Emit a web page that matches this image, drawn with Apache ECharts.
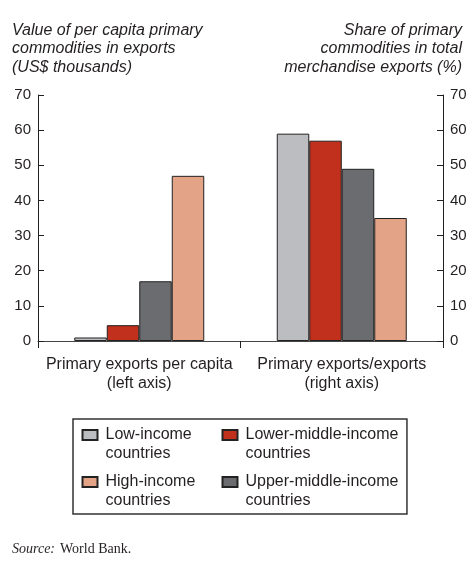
<!DOCTYPE html>
<html>
<head>
<meta charset="utf-8">
<script src="https://cdn.jsdelivr.net/npm/echarts@6/dist/echarts.min.js"></script>
<style>
  html, body { margin: 0; padding: 0; background: #fff; }
  #chart { width: 472px; height: 570px; }
</style>
</head>
<body>
<div id="chart"></div>
<script>
const categories = ['Primary exports per capita\n(left axis)', 'Primary exports/exports\n(right axis)'];
const seriesNames = [
  'Low-income\ncountries',
  'Lower-middle-income\ncountries',
  'Upper-middle-income\ncountries',
  'High-income\ncountries'
];
// [per capita (US$ thousands), share of exports (%)]
const lowIncome = [1, 59];
const lowerMiddle = [4.5, 57];
const upperMiddle = [17, 49];
const highIncome = [47, 35];
const seriesValues = [lowIncome, lowerMiddle, upperMiddle, highIncome];
const seriesColors = ['#bcbdc1', '#c0301c', '#6b6c70', '#e3a387'];
const legendOrder = [seriesNames[0], seriesNames[1], seriesNames[3], seriesNames[2]];

const chart = echarts.init(document.getElementById('chart'));
const font = 'Liberation Sans, Arial, sans-serif';
const ink = '#231f20';

// legend swatch sits on the first line of a two-line label
const swatch = 'path://M0,0L0,0M0,4.5L15,4.5L15,14.5L0,14.5ZM0,38L0,38';

const valueAxis = (pos) => ({
  type: 'value',
  position: pos,
  min: 0,
  max: 70,
  interval: 10,
  splitLine: { show: false },
  axisLine: { show: true, lineStyle: { color: ink, width: 1 } },
  axisTick: { show: true, inside: true, length: 6, lineStyle: { color: ink } },
  axisLabel: { color: ink, fontSize: 15, fontFamily: font, margin: 7 }
});

const titleText = { fontSize: 16, fontStyle: 'italic', fontWeight: 'normal', color: ink, fontFamily: font, lineHeight: 18.5 };

chart.setOption({
  animation: false,
  title: [
    {
      text: 'Value of per capita primary\ncommodities in exports\n(US$ thousands)',
      left: 7, top: 16,
      textStyle: titleText
    },
    {
      text: 'Share of primary\ncommodities in total\nmerchandise exports (%)',
      left: 'right', top: 16,
      padding: [5, 10, 5, 5],
      textStyle: titleText
    },
    {
      text: '{i|Source:} {n|World Bank.}',
      left: 7, top: 535,
      textStyle: {
        rich: {
          i: { fontFamily: 'Liberation Serif, serif', fontStyle: 'italic', fontWeight: 'normal', fontSize: 14, color: ink },
          n: { fontFamily: 'Liberation Serif, serif', fontWeight: 'normal', fontSize: 14, color: ink }
        }
      }
    }
  ],
  grid: { left: 38, right: 29, top: 95, bottom: 229 },
  xAxis: {
    type: 'category',
    data: categories,
    axisLine: { lineStyle: { color: '#444', width: 1 } },
    axisTick: { show: true, length: 7, lineStyle: { color: ink } },
    axisLabel: { interval: 0, color: ink, fontSize: 16, fontFamily: font, lineHeight: 19, margin: 14 }
  },
  yAxis: [valueAxis('left'), valueAxis('right')],
  legend: {
    data: legendOrder,
    icon: swatch,
    left: 73, top: 419,
    width: 340,
    orient: 'horizontal',
    padding: [5.5, 8.5, 2.5, 8.5],
    itemGap: 7,
    itemWidth: 15,
    itemHeight: 38,
    borderColor: '#333',
    borderWidth: 1.5,
    selectedMode: false,
    textStyle: { color: ink, fontSize: 16, fontFamily: font, lineHeight: 19, width: 109, padding: [0, 0, 0, 3] }
  },
  series: seriesNames.map((name, i) => ({
    name: name,
    type: 'bar',
    yAxisIndex: 0,
    data: seriesValues[i],
    barWidth: 32.5,
    barGap: '0%',
    itemStyle: { color: seriesColors[i], borderColor: '#222', borderWidth: 1 }
  }))
});
</script>
</body>
</html>
